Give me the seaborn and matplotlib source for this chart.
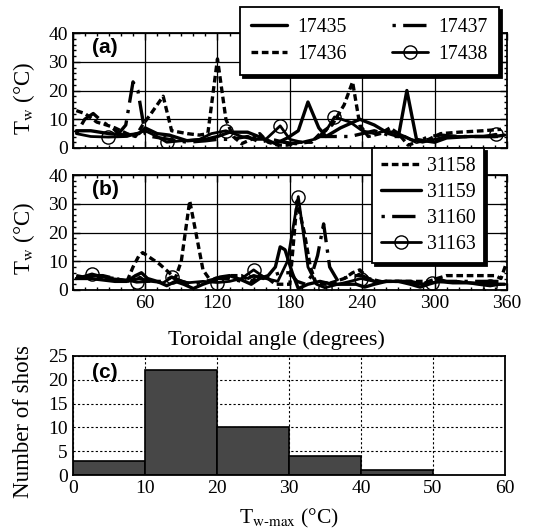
import matplotlib
matplotlib.use("Agg")
import matplotlib.pyplot as plt
from matplotlib.ticker import MultipleLocator
import seaborn as sns

# ---- wall temperature rise vs toroidal angle, shots 17435-17438 ----
angle_17435 = [3, 15, 30, 45, 55, 60, 70, 80, 95, 110, 120, 130, 145, 160, 168, 178, 187,
               195, 204, 210, 222, 238, 250, 262, 270, 277, 285, 292, 300, 310, 330, 350, 358]
tw_17435 = [6, 6, 5, 4.5, 5, 7, 5, 4.5, 2.5, 3, 4, 5.5, 5.5, 3, 1.5, 3.5, 6,
            16, 7, 4, 7, 10, 8, 5, 4, 20, 3, 2.5, 2, 3.5, 4, 4, 4.5]

angle_17436 = [3, 10, 20, 28, 35, 45, 52, 58, 65, 75, 82, 95, 105, 112, 120, 127, 133, 140,
               148, 155, 162, 170, 178, 188, 198, 205, 215, 225, 232, 238, 245, 255, 263,
               270, 278, 285, 295, 305, 320, 340, 355]
tw_17436 = [13, 12, 9, 8, 7, 5, 4, 8, 12, 18, 6, 5, 4.5, 5, 31, 10, 4, 1.5,
            3, 5, 2, 1, 1, 2, 2, 5, 8, 15, 23, 8, 4, 5, 7,
            5, 1, 2, 3, 5, 5.5, 6, 6.5]

angle_17437 = [3, 10, 17, 25, 33, 38, 44, 50, 54, 60, 65, 80, 95, 110, 120, 130, 145, 155,
               165, 175, 185, 195, 205, 215, 230, 240, 250, 258, 265, 275, 285, 295, 305,
               320, 340, 355]
tw_17437 = [5, 10, 12, 9, 7, 5, 8, 23, 20, 5, 4, 3, 2, 2.5, 3, 3, 4, 2,
            3, 2, 1.5, 2, 4, 4, 4, 5, 6, 5, 4, 4, 2, 4, 4.5,
            4, 4, 4]

angle_17438 = [3, 15, 29.5, 45, 60, 70, 78, 90, 105, 115, 127, 140, 150, 160, 172, 180, 190,
               200, 210, 217, 230, 240, 250, 260, 270, 280, 290, 300, 310, 320, 330, 340, 351]
tw_17438 = [5, 4, 3.8, 4, 6, 4, 2, 2.5, 3, 5, 6, 4, 3, 3, 7.7, 3, 2,
            3, 6, 10.8, 9, 6, 5, 6, 5, 3, 2, 3, 4, 4, 4, 4, 4.8]
marks_17438 = [2, 6, 10, 14, 19, 32]

# ---- shots 31158-31163 ----
angle_31158 = [3, 15, 25, 35, 45, 50, 55, 58, 65, 72, 80, 85, 90, 97, 103, 108, 113, 120,
               130, 140, 148, 155, 162, 168, 175, 180, 186, 192, 197, 202, 210, 218, 225,
               232, 238, 245, 255, 265, 275, 285, 295, 302, 310, 320, 330, 340, 350, 355, 360]
tw_31158 = [5, 4, 4.5, 4, 3, 8, 12, 13, 11, 9, 6, 4, 10, 31, 18, 7, 4, 3,
            5, 5, 3, 5, 4, 2, 2, 2, 31, 20, 8, 2, 2, 3, 4,
            6, 7, 4, 3, 3, 3, 3, 3, 4, 5, 5, 5, 5, 5, 4, 10]

angle_31159 = [3, 15, 25, 35, 45, 52, 57, 62, 70, 78, 85, 92, 100, 108, 115, 122, 130, 140,
               148, 155, 162, 168, 172, 176, 182, 187, 195, 205, 215, 225, 235, 242, 250,
               260, 270, 280, 288, 295, 303, 315, 330, 345, 358]
tw_31159 = [4, 4, 3.5, 3, 3, 5, 6, 4, 3, 1.5, 3, 2, 0.5, 2, 3, 4.5, 5, 3.5,
            2, 4, 5, 8, 15, 14, 6, 0.5, 2, 3, 2, 2, 2, 1, 2,
            3, 3, 2, 1, 2, 3, 2.5, 2.5, 2, 2]

angle_31160 = [3, 15, 25, 35, 45, 55, 65, 75, 82, 90, 100, 110, 120, 130, 140, 150, 158,
               165, 172, 180, 186, 193, 198, 203, 208, 213, 220, 230, 240, 250, 260, 270,
               280, 290, 300, 310, 325, 340, 355]
tw_31160 = [4.5, 5, 5, 4, 3, 4, 3, 3, 4.5, 3, 2, 3, 4, 4, 3, 5, 4,
            5, 6, 6, 3, 2, 5, 12, 23, 8, 3, 5, 5, 3, 3, 3,
            3, 2, 4, 3, 3, 3, 3]

angle_31163 = [3, 16, 30, 45, 53, 65, 75, 82, 95, 108, 120, 130, 140, 150, 160, 170, 178,
               187, 195, 202, 209, 220, 230, 239, 250, 262, 275, 288, 298, 310, 320, 335,
               346, 355]
tw_31163 = [4, 5.6, 4, 3.5, 2.7, 3, 2.5, 4.4, 2.5, 3, 2.6, 3, 4, 7, 4, 3, 10,
            32.5, 8, 2, 0.8, 2, 3, 4, 3, 3, 3, 2, 2.6, 3, 3, 2,
            1.4, 2]
marks_31163 = [1, 4, 7, 10, 13, 17, 20, 23, 28, 32]

# ---- histogram of peak wall temperature rise ----
tmax_edges = [0, 10, 20, 30, 40, 50]
tmax_centers = [5, 15, 25, 35, 45]
shot_counts = [3, 22, 10, 4, 1]

sns.set_theme(style="white")
plt.rcParams.update({
    "font.family": ["Liberation Serif", "DejaVu Serif"],
    "mathtext.fontset": "stix",
    "font.size": 14,
    "axes.linewidth": 1.3,
    "axes.edgecolor": "black",
    "axes.labelcolor": "black",
    "text.color": "black",
    "xtick.color": "black",
    "ytick.color": "black",
    "xtick.direction": "in",
    "ytick.direction": "in",
    "xtick.top": True,
    "ytick.right": True,
    "xtick.bottom": True,
    "ytick.left": True,
    "xtick.major.size": 5,
    "ytick.major.size": 5,
    "xtick.minor.size": 2.5,
    "ytick.minor.size": 2.5,
    "xtick.major.width": 1.0,
    "ytick.major.width": 1.0,
    "xtick.labelsize": 14,
    "ytick.labelsize": 14,
    "axes.labelsize": 16.5,
})

W, H = 549, 531
fig = plt.figure(figsize=(W / 100, H / 100), dpi=100)


def add_axes(left, top, right, bottom):
    return fig.add_axes([left / W, 1 - bottom / H, (right - left) / W, (bottom - top) / H])


ax_a = add_axes(72.7, 33, 507, 148)
ax_b = add_axes(72.7, 175, 507, 290)
ax_c = add_axes(72.7, 356, 505, 475)

SOLID = dict(color="black", lw=2.4, linestyle="-")
DASH = dict(color="black", lw=2.4, linestyle=(0, (2.0, 1.1)))
DOTDASH = dict(color="black", lw=2.4, linestyle=(0, (1.0, 2.2, 7.0, 2.2)))
CIRC = dict(color="black", lw=2.0, linestyle="-", marker="o", markersize=9.5,
            markerfacecolor="none", markeredgecolor="black", markeredgewidth=1.0)


def trace(ax, x, y, label, style, **extra):
    sns.lineplot(x=x, y=y, ax=ax, label=label, estimator=None, errorbar=None,
                 sort=False, **style, **extra)


trace(ax_a, angle_17435, tw_17435, "17435", SOLID)
trace(ax_a, angle_17436, tw_17436, "17436", DASH)
trace(ax_a, angle_17437, tw_17437, "17437", DOTDASH)
trace(ax_a, angle_17438, tw_17438, "17438", CIRC, markevery=marks_17438)

trace(ax_b, angle_31158, tw_31158, "31158", DASH)
trace(ax_b, angle_31159, tw_31159, "31159", SOLID)
trace(ax_b, angle_31160, tw_31160, "31160", DOTDASH)
trace(ax_b, angle_31163, tw_31163, "31163", CIRC, markevery=marks_31163)

for ax, tag, ylab_y in ((ax_a, "(a)", 0.43), (ax_b, "(b)", 0.45)):
    ax.set_xlim(0, 360)
    ax.set_ylim(0, 40)
    ax.xaxis.set_major_locator(MultipleLocator(60))
    ax.xaxis.set_minor_locator(MultipleLocator(10))
    ax.yaxis.set_major_locator(MultipleLocator(10))
    ax.yaxis.set_minor_locator(MultipleLocator(2))
    ax.grid(True, which="major", color="black", lw=0.9)
    ax.set_ylabel(r"T$_\mathrm{w}$ (°C)")
    ax.yaxis.set_label_coords(-0.083, ylab_y)
    ax.text(0.045, 0.96, tag, transform=ax.transAxes, ha="left", va="top",
            fontsize=15, fontweight="bold", family=["Liberation Sans", "DejaVu Sans"])
    if ax.get_legend() is not None:
        ax.get_legend().remove()

ax_a.set_xlabel("")
ax_a.tick_params(axis="x", which="both", labelbottom=False)
ax_b.set_xticks([60, 120, 180, 240, 300, 360])
ax_b.set_xlabel("Toroidal angle (degrees)", fontsize=16)
ax_b.xaxis.set_label_coords(0.47, -0.35)

# histogram panel
sns.histplot(x=tmax_centers, weights=shot_counts, bins=tmax_edges, ax=ax_c,
             color="#474747", edgecolor="black", linewidth=1.2, alpha=1.0, stat="count")
ax_c.set_xlim(0, 60)
ax_c.set_ylim(0, 25)
ax_c.xaxis.set_major_locator(MultipleLocator(10))
ax_c.yaxis.set_major_locator(MultipleLocator(5))
ax_c.set_axisbelow(True)
ax_c.grid(True, color="black", lw=0.8, linestyle=(0, (2, 2)))
ax_c.tick_params(which="both", length=0)
ax_c.set_xlabel(r"T$_\mathrm{w\text{-}max}$ (°C)", fontsize=15.5)
ax_c.xaxis.set_label_coords(0.5, -0.27)
ax_c.set_ylabel("Number of shots")
ax_c.yaxis.set_label_coords(-0.09, 0.45)
ax_c.text(0.045, 0.94, "(c)", transform=ax_c.transAxes, ha="left", va="top",
          fontsize=15, fontweight="bold", family=["Liberation Sans", "DejaVu Sans"])

# legends
h_a, l_a = ax_a.get_legend_handles_labels()
leg_a = fig.legend(h_a, l_a, ncol=2, loc="upper left",
                   bbox_to_anchor=(240 / W, 1 - 7 / H), borderaxespad=0,
                   frameon=True, fancybox=False, edgecolor="black", framealpha=1,
                   shadow={"color": "black", "alpha": 1}, fontsize=14.3,
                   handlelength=1.8, handletextpad=0.55, columnspacing=2.25,
                   labelspacing=0.4, borderpad=0.55)
leg_a.get_frame().set_linewidth(1.3)

h_b, l_b = ax_b.get_legend_handles_labels()
leg_b = fig.legend(h_b, l_b, ncol=1, loc="upper left",
                   bbox_to_anchor=(372 / W, 1 - 148 / H), borderaxespad=0,
                   frameon=True, fancybox=False, edgecolor="black", framealpha=1,
                   shadow={"color": "black", "alpha": 1}, fontsize=14.3,
                   handlelength=2.0, handletextpad=0.3,
                   labelspacing=0.36, borderpad=0.45)
leg_b.get_frame().set_linewidth(1.3)

fig.savefig("out.png", dpi=100, facecolor="white")
